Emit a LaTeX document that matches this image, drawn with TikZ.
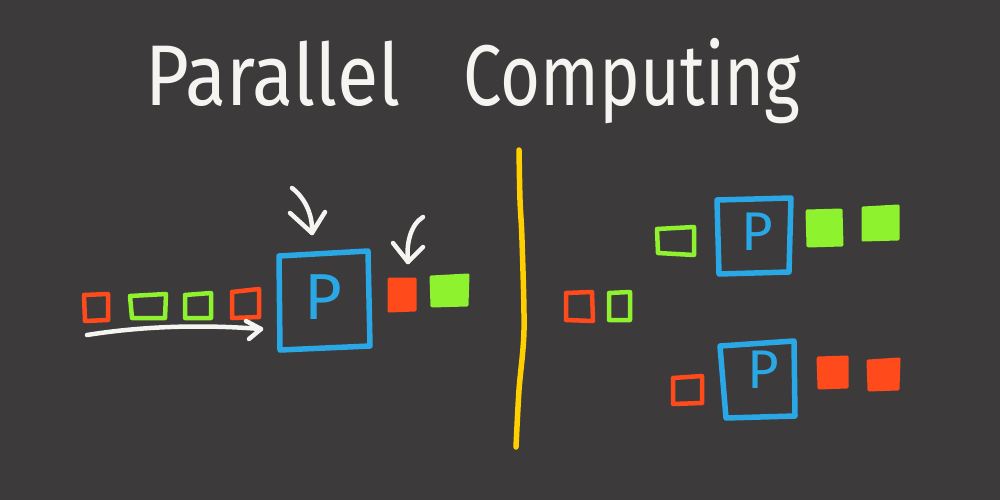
\documentclass[tikz,border=0pt]{standalone}
\usepackage{fontspec}
\newfontfamily\handfont{Fira Sans}
\definecolor{bg}{HTML}{3D3A3C}
\definecolor{myred}{HTML}{FF4A1C}
\definecolor{mygreen}{HTML}{8EF22E}
\definecolor{myblue}{HTML}{2AA8E6}
\definecolor{myyellow}{HTML}{FFD000}
\definecolor{mywhite}{HTML}{F4F4F0}
\tikzset{
  redout/.style={draw=myred, line width=0.9mm},
  greenout/.style={draw=mygreen, line width=0.9mm},
  redfill/.style={draw=myred, fill=myred, line width=0.6mm},
  greenfill/.style={draw=mygreen, fill=mygreen, line width=0.6mm},
  procbox/.style={draw=myblue, line width=1.1mm},
  hand/.style={draw=mywhite, line width=0.9mm},
  divider/.style={draw=myyellow, line width=1.1mm},
  plabel/.style={text=myblue, inner sep=0pt, font=\handfont\fontsize{#1}{#1}\selectfont},
  titletext/.style={text=mywhite, inner sep=0pt, anchor=base west, font=\handfont\fontsize{49}{49}\selectfont}
}
\begin{document}
\begin{tikzpicture}[x=0.2mm,y=-0.2mm,line join=round,line cap=round]
\fill[bg] (0,0) rectangle (1000,500);
\useasboundingbox (0,0) rectangle (1000,500);

% title
\node[titletext] (t1) at (145,105) {\resizebox{51mm}{\height}{Parallel}};
\node[titletext] (t2) at (463,105) {\resizebox{67.4mm}{\height}{Computing}};

% divider
\draw[divider] plot[smooth] coordinates {(519,150) (520,200) (522,240) (524,330) (519,390) (516,447)};

% ---------- left: sequential ----------
\draw[redout]   (84,295) -- (108,294) -- (108,320) -- (85,321) -- cycle;
\draw[greenout] (130,296) -- (166,294) -- (165,318) -- (132,318) -- cycle;
\draw[greenout] (185,295) -- (211,293) -- (211,318) -- (185,318) -- cycle;
\draw[redout]   (232,292) -- (259,289) -- (259,317) -- (232,318) -- cycle;

\draw[procbox] (279,256) -- (368,251) -- (370,346) -- (280,350) -- cycle;
\node[plabel=37] (p1) at (323,297) {P};

\draw[redfill]   (389,279) -- (415,279) -- (415,310) -- (389,311) -- cycle;
\draw[greenfill] (431,277) -- (468,275) -- (467,305) -- (432,306) -- cycle;

% arrows
\coordinate (a1s) at (87,335);
\coordinate (a1e) at (261,329);
\draw[hand] (a1s) .. controls (150,325) and (210,325) .. (a1e);
\draw[hand] (246,321) -- (a1e) -- (249,339);

\coordinate (a2s) at (292,188);
\coordinate (a2e) at (312,233);
\draw[hand] (a2s) .. controls (305,198) and (313,215) .. (a2e);
\draw[hand] (290,213) -- (a2e) -- (325,212);

\coordinate (a3s) at (423,217);
\coordinate (a3e) at (408,262);
\draw[hand] (a3s) .. controls (410,225) and (406,245) .. (a3e);
\draw[hand] (393,243) -- (a3e) -- (423,247);

% ---------- right: parallel ----------
\draw[redout]   (566,293) -- (592,292) -- (593,321) -- (566,320) -- cycle;
\draw[greenout] (609,293) -- (630,292) -- (630,320) -- (609,320) -- cycle;

% top processor
\draw[greenout] (657,229) -- (694,227) -- (694,255) -- (658,253) -- cycle;
\draw[procbox] (717,200) -- (791,198) -- (789,272) -- (719,274) -- cycle;
\node[plabel=31] (p2) at (757,232) {P};
\draw[greenfill] (807,211) -- (841,210) -- (842,245) -- (808,246) -- cycle;
\draw[greenfill] (863,208) -- (898,206) -- (898,239) -- (863,240) -- cycle;

% bottom processor
\draw[redout]  (673,378) -- (702,376) -- (702,403) -- (673,404) -- cycle;
\draw[procbox] (720,346) -- (794,341) -- (795,416) -- (726,418) -- cycle;
\node[plabel=31] (p3) at (763,370) {P};
\draw[redfill] (818,358) -- (847,357) -- (847,387) -- (819,388) -- cycle;
\draw[redfill] (868,361) -- (899,359) -- (898,389) -- (869,390) -- cycle;
\end{tikzpicture}
\end{document}
